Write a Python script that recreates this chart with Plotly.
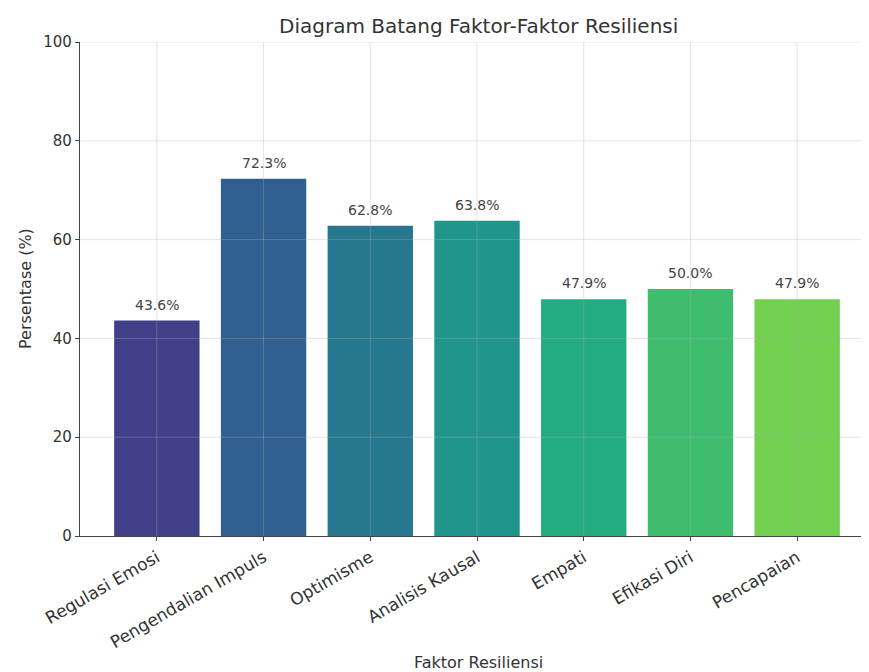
import plotly.graph_objects as go

categories = ["Regulasi Emosi", "Pengendalian Impuls", "Optimisme", "Analisis Kausal",
              "Empati", "Efikasi Diri", "Pencapaian"]
values = [43.6, 72.3, 62.8, 63.8, 47.9, 50.0, 47.9]
colors = ["#413f88", "#30608f", "#26788e", "#1f958b", "#23ab81", "#3fbd6f", "#72cf4f"]
yticks = [0, 20, 40, 60, 80, 100]

FONT = "DejaVu Sans"
grid_col = "rgba(176,176,176,0.35)"
W, H = 869, 672
OFF = 8  # page body margin offset
# plot area in reference pixels: left 80, right 874, top 42, bottom 536
L = 80 - OFF
T = 42 - OFF
R = W - (874 - OFF)
B = H - (536 - OFF)
pw = W - L - R
ph = H - T - B


def px(x):
    return (x - OFF - L) / pw


def py(y):
    return 1 - (y - OFF - T) / ph


fig = go.Figure()
fig.add_trace(go.Bar(
    x=categories, y=values, marker=dict(color=colors, line=dict(width=0)),
    width=0.8, showlegend=False,
))

annotations = []
for c, v in zip(categories, values):
    annotations.append(dict(x=c, y=v, xref="x", yref="y", text=f"{v:.1f}%",
                            showarrow=False, yanchor="bottom", yshift=6,
                            font=dict(family=FONT, size=14, color="#444444")))

annotations.append(dict(text="Faktor Resiliensi", xref="paper", yref="paper",
                        x=px(478), y=py(662), showarrow=False,
                        xanchor="center", yanchor="middle",
                        font=dict(family=FONT, size=16, color="#333333")))
annotations.append(dict(text="Persentase (%)", xref="paper", yref="paper",
                        x=px(25), y=py(289), showarrow=False, textangle=-90,
                        xanchor="center", yanchor="middle",
                        font=dict(family=FONT, size=16, color="#333333")))
annotations.append(dict(text="Diagram Batang Faktor-Faktor Resiliensi", xref="paper", yref="paper",
                        x=px(478), y=py(26), showarrow=False,
                        xanchor="center", yanchor="middle",
                        font=dict(family=FONT, size=20, color="#333333")))

shapes = []
for c in categories:
    shapes.append(dict(type="line", xref="x", yref="y", x0=c, x1=c, y0=0, y1=100,
                       line=dict(color=grid_col, width=1), layer="above"))
for t in yticks[1:]:
    shapes.append(dict(type="line", xref="paper", yref="y", x0=0, x1=1, y0=t, y1=t,
                       line=dict(color=grid_col, width=1), layer="above"))

fig.update_layout(
    width=W, height=H,
    margin=dict(l=L, r=R, t=T, b=B, autoexpand=False),
    paper_bgcolor="white", plot_bgcolor="white",
    font=dict(family=FONT, color="#333333"),
    annotations=annotations,
    shapes=shapes,
)
fig.update_xaxes(
    range=[-0.72, 6.72], tickangle=-30, showgrid=False, automargin=False,
    showline=True, linecolor="#444444", linewidth=1.2,
    ticks="outside", ticklen=4, tickcolor="#444444",
    tickfont=dict(family=FONT, size=17, color="#333333"),
)
fig.update_yaxes(
    range=[0, 100], tickvals=yticks, showgrid=False, zeroline=False, automargin=False,
    showline=True, linecolor="#444444", linewidth=1.2,
    ticks="outside", ticklen=4, tickcolor="#444444",
    tickfont=dict(family=FONT, size=15, color="#333333"),
)

fig.write_html("out.html")
